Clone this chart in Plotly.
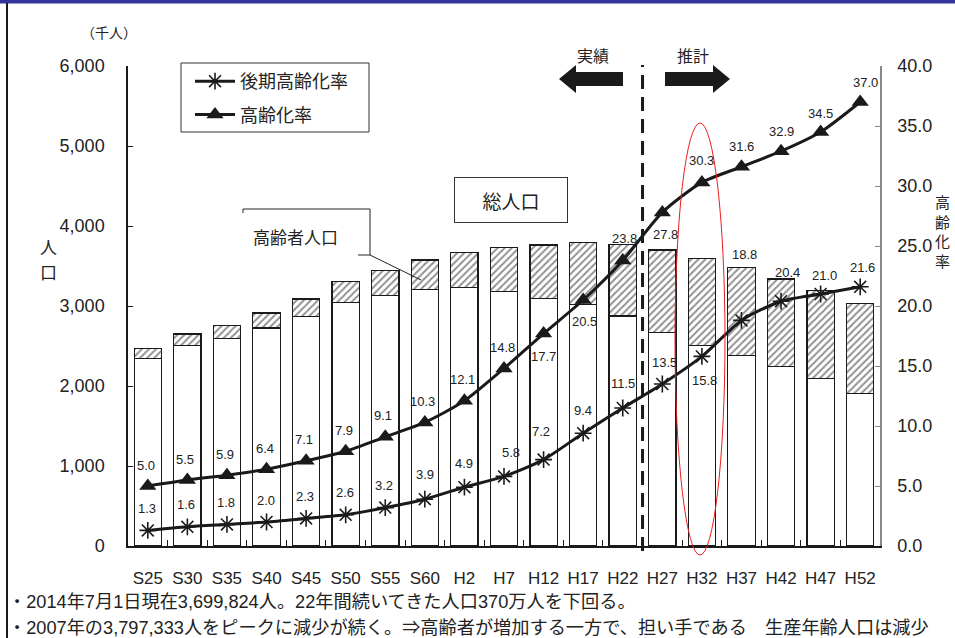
import plotly.graph_objects as go

# ---- data -------------------------------------------------------------
categories = ["S25", "S30", "S35", "S40", "S45", "S50", "S55", "S60", "H2", "H7",
              "H12", "H17", "H22", "H27", "H32", "H37", "H42", "H47", "H52"]

# 総人口 and 高齢者人口 (thousand persons)
total_pop = [2471, 2650, 2754, 2912, 3087, 3308, 3446, 3575, 3671, 3733,
             3762, 3792, 3771, 3700, 3596, 3483, 3337, 3192, 3033]
elderly_pop = [125, 146, 163, 187, 219, 261, 314, 368, 444, 552,
               666, 778, 897, 1029, 1090, 1101, 1098, 1101, 1122]

# 高齢化率 / 後期高齢化率 (%)
aging_rate = [5.0, 5.5, 5.9, 6.4, 7.1, 7.9, 9.1, 10.3, 12.1, 14.8,
              17.7, 20.5, 23.8, 27.8, 30.3, 31.6, 32.9, 34.5, 37.0]
late_rate = [1.3, 1.6, 1.8, 2.0, 2.3, 2.6, 3.2, 3.9, 4.9, 5.8,
             7.2, 9.4, 11.5, 13.5, 15.8, 18.8, 20.4, 21.0, 21.6]

left_ticks = [0, 1000, 2000, 3000, 4000, 5000, 6000]
right_ticks = [0, 5, 10, 15, 20, 25, 30, 35, 40]

notes = [
    "・2014年7月1日現在3,699,824人。22年間続いてきた人口370万人を下回る。",
    "・2007年の3,797,333人をピークに減少が続く。⇒高齢者が増加する一方で、担い手である　生産年齢人口は減少",
]

# ---- styling ----------------------------------------------------------
W, H = 955, 638
L, R, T, B = 128, 880, 66, 546
NUM = "Liberation Sans, Arial, sans-serif"
CJK = "Noto Sans CJK JP, sans-serif"
MIX = "Liberation Sans, Noto Sans CJK JP, sans-serif"
INK = "#1a1a1a"

# label offsets (px) for the two rate series: (dx, dy), dy upward
aging_off = [(-2, 21)] * 10 + [(0, -23), (1, -21), (2, 22), (3, -22), (0, 22),
                                (0, 20), (0, 20), (0, 19), (5, 20)]
late_off = [(-1, 22)] * 7 + [(0, 25), (0, 24), (7, 24), (-3, 28), (0, 23), (0, 25),
                             (2, 22), (3, -24), (3, 66), (6, 29), (4, 19), (2, 19)]


def px(x):
    return (x - L) / (R - L)


def py(y):
    return (B - y) / (B - T)


def path(points, close=True):
    s = "M " + " L ".join(f"{px(x):.5f},{py(y):.5f}" for x, y in points)
    return s + (" Z" if close else "")


working_pop = [t - e for t, e in zip(total_pop, elderly_pop)]

fig = go.Figure()

fig.add_trace(go.Bar(
    x=categories, y=working_pop, showlegend=False,
    marker=dict(color="white", line=dict(color=INK, width=1.2)),
    hoverinfo="skip",
))
fig.add_trace(go.Bar(
    x=categories, y=elderly_pop, showlegend=False,
    marker=dict(color="white", line=dict(color=INK, width=1.2),
                pattern=dict(shape="/", fgcolor="#222", bgcolor="white", size=5, solidity=0.4)),
    hoverinfo="skip",
))
fig.add_trace(go.Scatter(
    x=categories, y=late_rate, yaxis="y2", name="後期高齢化率",
    legendgroup="late", mode="lines+markers",
    line=dict(color=INK, width=3, shape="spline", smoothing=0.7),
    marker=dict(symbol="asterisk-open", size=14, color=INK, line=dict(color=INK, width=1.6)),
))
fig.add_trace(go.Scatter(
    x=categories, y=aging_rate, yaxis="y2", name="高齢化率",
    legendgroup="aging", mode="lines+markers",
    line=dict(color=INK, width=3, shape="spline", smoothing=0.7),
    marker=dict(symbol="triangle-up", size=15, color=INK),
))

annotations = []
for i, (v, (dx, dy)) in enumerate(zip(aging_rate, aging_off)):
    annotations.append(dict(x=categories[i], y=v, xref="x", yref="y2", text=f"{v:.1f}",
                            showarrow=False, xshift=dx, yshift=dy,
                            xanchor="center", yanchor="middle",
                            font=dict(family=NUM, size=13, color="#222")))
for i, (v, (dx, dy)) in enumerate(zip(late_rate, late_off)):
    annotations.append(dict(x=categories[i], y=v, xref="x", yref="y2", text=f"{v:.1f}",
                            showarrow=False, xshift=dx, yshift=dy,
                            xanchor="center", yanchor="middle",
                            font=dict(family=NUM, size=13, color="#222")))


def text_at(x, y, s, size, family=CJK, **kw):
    d = dict(x=px(x), y=py(y), xref="paper", yref="paper", text=s, showarrow=False,
             xanchor="center", yanchor="middle",
             font=dict(family=family, size=size, color="#222"))
    d.update(kw)
    annotations.append(d)


text_at(109, 32, "（千人）", 14)
# vertical axis titles, one character per line
text_at(48, 246, "人", 17, borderpad=0)
text_at(48, 271, "口", 17, borderpad=0)
text_at(943, 231, "高<br>齢<br>化<br>率", 15)
text_at(593, 55, "実績", 16)
text_at(693, 55, "推計", 16)
text_at(295, 237, "高齢者人口", 17)
text_at(511, 200, "総人口", 19, width=110, height=42, bordercolor="#333",
        borderwidth=1, borderpad=1, bgcolor="white")
text_at(6, 602, notes[0], 18.2, family=MIX, xanchor="left")
text_at(6, 628, notes[1], 18.2, family=MIX, xanchor="left")

shapes = [
    # page frame: blue band on top, dark rule on the left
    dict(type="rect", xref="paper", yref="paper", x0=px(0), x1=px(W), y0=py(0), y1=py(3.5),
         fillcolor="#333399", line=dict(width=0), layer="above"),
    dict(type="line", xref="paper", yref="paper", x0=px(7), x1=px(7), y0=py(3), y1=py(H),
         line=dict(color=INK, width=2)),
    # legend frame
    dict(type="rect", xref="paper", yref="paper", x0=px(181), x1=px(369), y0=py(132), y1=py(63),
         fillcolor="white", line=dict(color="#333", width=1), layer="above"),
    # boundary between actual and projected values
    dict(type="line", xref="x", yref="paper", x0=12.5, x1=12.5, y0=py(551), y1=py(65),
         line=dict(color=INK, width=3, dash="14px,8px"), layer="above"),
    # 実績 / 推計 arrows
    dict(type="path", xref="paper", yref="paper", layer="above",
         path=path([(559, 79), (576, 65), (576, 72), (623, 72), (623, 86), (576, 86), (576, 93)]),
         fillcolor=INK, line=dict(width=0)),
    dict(type="path", xref="paper", yref="paper", layer="above",
         path=path([(730, 79), (713, 65), (713, 72), (665, 72), (665, 86), (713, 86), (713, 93)]),
         fillcolor=INK, line=dict(width=0)),
    # callout for 高齢者人口
    dict(type="path", xref="paper", yref="paper", layer="above",
         path=path([(243, 213), (243, 209), (370, 209), (370, 255), (358, 255)], close=False),
         line=dict(color="#222", width=1)),
    dict(type="line", xref="paper", yref="paper", x0=px(370), y0=py(255), x1=px(421), y1=py(280),
         line=dict(color="#222", width=1), layer="above"),
    # highlight around H32
    dict(type="circle", xref="paper", yref="paper", x0=px(675), x1=px(725), y0=py(555), y1=py(123),
         line=dict(color="#ee1c1c", width=1), layer="above"),
]

fig.update_layout(
    width=W, height=H,
    margin=dict(l=L, r=W - R, t=T, b=H - B, autoexpand=False),
    paper_bgcolor="white", plot_bgcolor="white",
    barmode="stack", bargap=0.31,
    legend=dict(x=px(190), y=py(63), xanchor="left", yanchor="top",
                bgcolor="rgba(0,0,0,0)", borderwidth=0,
                font=dict(family=CJK, size=18, color="#222"),
                traceorder="grouped", tracegroupgap=7, itemwidth=40),
    xaxis=dict(type="category", range=[-0.5, len(categories) - 0.5],
               showline=True, linecolor=INK, linewidth=1.5,
               ticks="inside", tickson="boundaries", ticklen=6, tickcolor=INK,
               tickangle=0, tickfont=dict(family=NUM, size=17, color="#222"),
               ticklabelstandoff=16, showgrid=False, zeroline=False),
    yaxis=dict(range=[0, 6000], tickvals=left_ticks, ticktext=[f"{v:,}" for v in left_ticks],
               showline=True, linecolor=INK, linewidth=1.5, ticks="inside", ticklen=5,
               tickcolor=INK, tickfont=dict(family=NUM, size=18, color="#222"),
               ticklabelstandoff=18, showgrid=False, zeroline=False),
    yaxis2=dict(range=[0, 40], overlaying="y", side="right", tickvals=right_ticks,
                ticktext=[f"{v:.1f}" for v in right_ticks], showline=True,
                linecolor="#888", linewidth=1.5, ticks="inside", ticklen=5, tickcolor="#888",
                tickfont=dict(family=NUM, size=18, color="#222"), ticklabelstandoff=12,
                showgrid=False, zeroline=False),
    annotations=annotations,
    shapes=shapes,
)

fig.write_html("out.html")
